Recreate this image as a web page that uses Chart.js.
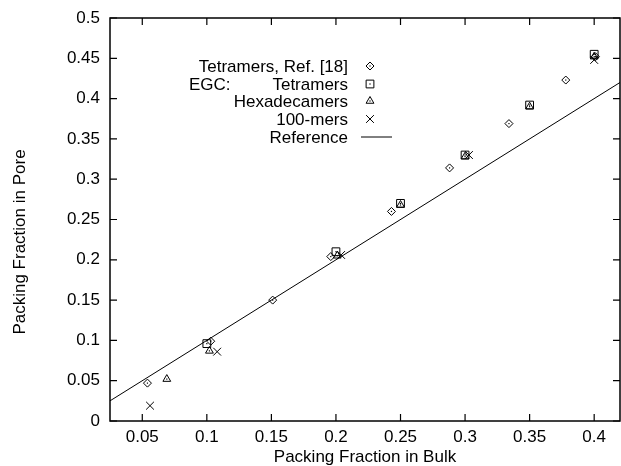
<!DOCTYPE html>
<html>
<head>
<meta charset="utf-8">
<script src="https://cdn.jsdelivr.net/npm/chart.js@4/dist/chart.umd.min.js"></script>
<style>
  html, body { margin: 0; padding: 0; background: #fff; }
  #wrap { width: 621px; height: 466px; }
</style>
</head>
<body>
<div id="wrap"><canvas id="scatterChart" width="621" height="466"></canvas></div>
<script>
// values
const tetraRefX = [0.054, 0.103, 0.151, 0.196, 0.243, 0.288, 0.334, 0.378, 0.401];
const tetraRefY = [0.047, 0.099, 0.150, 0.204, 0.260, 0.314, 0.369, 0.423, 0.452];
const egcTetraX = [0.100, 0.200, 0.250, 0.300, 0.350, 0.400];
const egcTetraY = [0.096, 0.210, 0.270, 0.330, 0.392, 0.455];
const hexaX = [0.069, 0.102, 0.201, 0.250, 0.300, 0.350, 0.400];
const hexaY = [0.052, 0.087, 0.205, 0.268, 0.328, 0.390, 0.452];
const merX = [0.056, 0.108, 0.204, 0.303, 0.400];
const merY = [0.019, 0.086, 0.206, 0.330, 0.448];
const refX = [0.025, 0.42];
const refY = [0.025, 0.42];

const xTicks = [0.05, 0.1, 0.15, 0.2, 0.25, 0.3, 0.35, 0.4];
const yTicks = [0, 0.05, 0.1, 0.15, 0.2, 0.25, 0.3, 0.35, 0.4, 0.45, 0.5];

const legendLabels = ['Tetramers, Ref. [18]', 'Tetramers', 'Hexadecamers', '100-mers', 'Reference'];
const FONT = 'Liberation Sans, Arial, Helvetica, sans-serif';

function toPoints(xs, ys) {
  return xs.map((x, i) => ({ x: x, y: ys[i] }));
}

function markerSet(label, xs, ys, style, radius) {
  return {
    label: label,
    data: toPoints(xs, ys),
    showLine: false,
    pointStyle: style,
    pointRadius: radius,
    pointBorderColor: '#000',
    pointBackgroundColor: 'rgba(0,0,0,0)',
    pointBorderWidth: 1,
    borderColor: '#000',
  };
}

// gnuplot style frame: box around plot + inward ticks on all sides
const framePlugin = {
  id: 'frame',
  afterDraw(chart) {
    const ctx = chart.ctx;
    const a = chart.chartArea;
    const xs = chart.scales.x;
    const ys = chart.scales.y;
    ctx.save();
    ctx.strokeStyle = '#000';
    ctx.lineWidth = 1.5;
    ctx.strokeRect(a.left, a.top, a.right - a.left, a.bottom - a.top);
    ctx.lineWidth = 1.2;
    ctx.beginPath();
    xTicks.forEach((v) => {
      let px = xs.getPixelForValue(v);
      ctx.moveTo(px, a.bottom); ctx.lineTo(px, a.bottom - 7);
      ctx.moveTo(px, a.top); ctx.lineTo(px, a.top + 7);
    });
    yTicks.forEach((v) => {
      let py = ys.getPixelForValue(v);
      ctx.moveTo(a.left, py); ctx.lineTo(a.left + 7, py);
      ctx.moveTo(a.right, py); ctx.lineTo(a.right - 7, py);
    });
    ctx.stroke();

    // y axis title
    ctx.fillStyle = '#000';
    ctx.font = '17px ' + FONT;
    ctx.textAlign = 'center';
    ctx.textBaseline = 'middle';
    ctx.translate(20, 242);
    ctx.rotate(-Math.PI / 2);
    ctx.fillText('Packing Fraction in Pore', 0, 0);
    ctx.restore();
  },
};

// small dot in the middle of every open marker
const dotPlugin = {
  id: 'dots',
  afterDatasetsDraw(chart) {
    const ctx = chart.ctx;
    ctx.save();
    ctx.fillStyle = '#000';
    [0, 1, 2].forEach((i) => {
      chart.getDatasetMeta(i).data.forEach((p) => {
        ctx.fillRect(p.x - 0.6, p.y - 0.6, 1.2, 1.2);
      });
    });
    ctx.restore();
  },
};

// key in the gnuplot layout: right aligned text, sample to the right
const keyPlugin = {
  id: 'key',
  afterDraw(chart) {
    const ctx = chart.ctx;
    const textRight = 348;
    const symX = 370;
    const rows = [66, 84, 101, 119, 137];
    ctx.save();
    ctx.fillStyle = '#000';
    ctx.strokeStyle = '#000';
    ctx.font = '17px ' + FONT;
    ctx.textBaseline = 'middle';
    ctx.textAlign = 'right';
    legendLabels.forEach((t, i) => ctx.fillText(t, textRight, rows[i] + 1));
    ctx.textAlign = 'left';
    ctx.fillText('EGC:', 189, rows[1] + 1);

    for (let i = 0; i < 4; i++) {
      let ds = chart.data.datasets[i];
      ctx.lineWidth = 1;
      ctx.fillStyle = 'rgba(0,0,0,0)';
      Chart.helpers.drawPoint(ctx, { pointStyle: ds.pointStyle, radius: ds.pointRadius, borderWidth: 1 }, symX, rows[i]);
      ctx.fillStyle = '#000';
      if (i < 3) ctx.fillRect(symX - 0.6, rows[i] - 0.6, 1.2, 1.2);
    }
    ctx.lineWidth = 1;
    ctx.beginPath();
    ctx.moveTo(361, rows[4]);
    ctx.lineTo(392, rows[4]);
    ctx.stroke();
    ctx.restore();
  },
};

let ctxS = document.getElementById('scatterChart').getContext('2d');
let myChart = new Chart(ctxS, {
  type: 'scatter',
  data: {
    datasets: [
      markerSet('Tetramers, Ref. [18]', tetraRefX, tetraRefY, 'rectRot', 4),
      markerSet('EGC: Tetramers', egcTetraX, egcTetraY, 'rect', 5.5),
      markerSet('Hexadecamers', hexaX, hexaY, 'triangle', 4.5),
      markerSet('100-mers', merX, merY, 'crossRot', 5.5),
      {
        label: 'Reference',
        data: toPoints(refX, refY),
        showLine: true,
        pointRadius: 0,
        borderColor: '#000',
        borderWidth: 1,
        fill: false,
      },
    ],
  },
  options: {
    responsive: false,
    animation: false,
    layout: { autoPadding: false, padding: { left: 0, right: 1, top: 18, bottom: 0 } },
    plugins: {
      legend: { display: false },
      tooltip: { enabled: false },
    },
    scales: {
      x: {
        type: 'linear',
        min: 0.025,
        max: 0.42,
        afterBuildTicks: (scale) => { scale.ticks = xTicks.map((v) => ({ value: v })); },
        afterFit: (scale) => {
          scale.height = 45;
          scale.paddingLeft = 0;
          scale.paddingRight = 0;
        },
        grid: { display: false, drawTicks: false },
        border: { display: false },
        ticks: {
          padding: 8,
          color: '#000',
          maxRotation: 0,
          font: { family: FONT, size: 17, lineHeight: 1 },
          callback: (v) => String(v),
        },
        title: {
          display: true,
          text: 'Packing Fraction in Bulk',
          color: '#000',
          padding: { top: 0, bottom: 0 },
          font: { family: FONT, size: 17, lineHeight: 1 },
        },
      },
      y: {
        type: 'linear',
        min: 0,
        max: 0.5,
        afterBuildTicks: (scale) => { scale.ticks = yTicks.map((v) => ({ value: v })); },
        afterFit: (scale) => {
          scale.width = 110;
          scale.paddingTop = 0;
          scale.paddingBottom = 0;
        },
        grid: { display: false, drawTicks: false },
        border: { display: false },
        ticks: {
          padding: 10,
          color: '#000',
          font: { family: FONT, size: 17, lineHeight: 1 },
          callback: (v) => String(v),
        },
      },
    },
  },
  plugins: [framePlugin, dotPlugin, keyPlugin],
});
</script>
</body>
</html>
